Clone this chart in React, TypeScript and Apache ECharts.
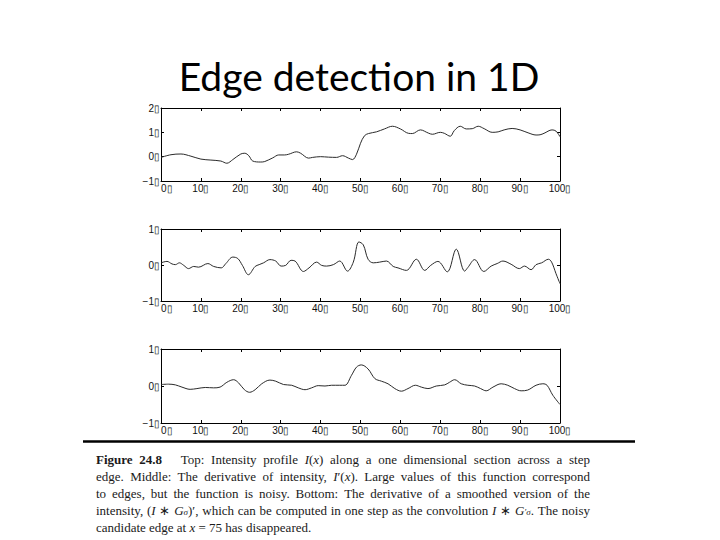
import React, { useEffect, useRef } from "react";
import * as echarts from "echarts";

const titleText = "Edge detection in 1D";
const tickSuffix = "\u25AF";

// Top: intensity profile I(x)
const intensityProfile: [number, number][] = [
  [0, -0.03], [2.5, 0.08], [5, 0.11], [7.5, 0.02], [10, -0.1], [12.5, -0.14], [15, -0.18],
  [16.5, -0.27], [18, -0.12], [20, 0.11], [21, 0.14], [22, 0.04], [23, -0.18], [25, -0.22],
  [26, -0.2], [28, -0.05], [29.5, 0.07], [31, 0.07], [32, 0.1], [34, 0.2], [35, 0.14],
  [37, -0.06], [38, -0.03], [40, 0], [42, -0.02], [44, -0.03], [45.5, 0.04], [47, -0.06],
  [48, -0.12], [49, 0.1], [50, 0.55], [51, 0.86], [52, 0.95], [54, 1.02], [56, 1.14],
  [58, 1.25], [60, 1.14], [62, 0.96], [63, 0.95], [65, 1.1], [67, 0.97], [68, 0.92],
  [70, 1.0], [71, 0.96], [72.5, 0.84], [73.5, 1.07], [75, 1.25], [76.5, 1.14], [78, 1.15],
  [79.5, 1.25], [81, 1.15], [83, 1.0], [84.5, 1.02], [86, 1.1], [88, 1.16], [90, 1.1],
  [92, 0.98], [94, 0.89], [95, 0.9], [96, 0.96], [98, 1.1], [99, 1.05], [100, 0.82],
];

// Middle: derivative I'(x)
const derivative: [number, number][] = [
  [0, 0.06], [1.5, 0.1], [2.75, 0.03], [3.6, 0.01], [4.6, 0.06], [5.7, -0.01], [6.9, -0.1],
  [8.2, -0.04], [9.4, -0.06], [11.75, 0.04], [13.2, -0.04], [15.1, -0.08], [16.25, 0.04],
  [18, 0.22], [19.25, 0.18], [20.4, -0.01], [21.9, -0.27], [23.6, -0.04], [24.6, 0.01],
  [25.7, 0.06], [27.3, 0.15], [28.75, 0.11], [30.1, -0.03], [31.25, -0.01], [32.6, 0.13],
  [33.6, 0.11], [35.7, -0.18], [37.1, -0.08], [39, 0.08], [40.25, -0.01], [41.5, -0.03],
  [43.2, 0.01], [44.8, 0.11], [46.75, -0.17], [48.2, 0.08], [49.6, 0.64], [50.7, 0.56],
  [51.9, 0.16], [53.2, 0.06], [54.8, 0.08], [56.5, 0.11], [58.2, -0.04], [59.4, -0.08],
  [61.5, -0.15], [64, 0.16], [66.1, -0.15], [67.6, -0.01], [69.4, 0.1], [71.75, -0.19],
  [74, 0.44], [76.1, -0.17], [76.9, -0.07], [78.6, 0.15], [80.9, -0.18], [82.75, -0.03],
  [84.25, 0.04], [85.7, 0.11], [87.75, 0.02], [89.8, -0.1], [91.1, -0.03], [92.75, -0.13],
  [94, 0.01], [95.4, 0.06], [97.1, 0.16], [97.9, 0.08], [99, -0.24], [100, -0.52],
];

// Bottom: derivative of smoothed intensity (I * G_sigma)'
const smoothedDerivative: [number, number][] = [
  [0, 0.04], [1.9, 0.05], [3.6, 0.03], [5.25, -0.03], [7.3, -0.09], [9, -0.07], [11.1, -0.04],
  [13.2, -0.05], [14.8, -0.03], [16.5, 0.1], [18.2, 0.17], [19.4, 0.09], [20.9, -0.1],
  [22.2, -0.17], [23.6, -0.1], [25.25, 0.06], [27.3, 0.16], [28.75, 0.13], [30.7, 0.04],
  [32.75, 0.02], [34.4, -0.05], [36.1, -0.1], [37.75, -0.05], [39.4, 0.01], [41.1, 0],
  [42.75, 0.02], [44.8, 0.02], [46.1, 0.02], [47.75, 0.29], [49, 0.51], [50.2, 0.57],
  [51.9, 0.46], [53.6, 0.2], [55.25, 0.13], [56.9, 0.06], [58.6, -0.07], [60.25, -0.14],
  [61.9, -0.07], [63.75, 0.02], [65.25, -0.03], [66.9, -0.07], [69, 0], [71.1, 0.03],
  [72.3, 0.1], [73.6, 0.17], [75.25, 0.06], [76.9, 0.02], [78.6, 0], [80.1, -0.07],
  [81.5, -0.13], [83.2, -0.03], [85.25, 0.06], [86.9, 0.02], [88.6, -0.07], [90.25, -0.13],
  [91.9, -0.11], [94, 0.02], [95.7, 0.06], [96.75, 0.02], [98.2, -0.25], [100, -0.5],
];

const panelSeries = [intensityProfile, derivative, smoothedDerivative];
const panelYRanges: [number, number][] = [[-1, 2], [-1, 1], [-1, 1]];
const xRange: [number, number] = [0, 100];

// Caption, one array of words per printed line; "\t" marks the wide gap after the figure number
const captionLines: string[][] = [
  ["{b|Figure}", "{b|24.8}", "\t", "Top:", "Intensity", "profile", "{i|I}{n|(}{i|x}{n|)}", "along", "a", "one", "dimensional", "section", "across", "a", "step"],
  ["edge.", "Middle:", "The", "derivative", "of", "intensity,", "{i|I}{n|\u2032(}{i|x}{n|).}", "Large", "values", "of", "this", "function", "correspond"],
  ["to", "edges,", "but", "the", "function", "is", "noisy.", "Bottom:", "The", "derivative", "of", "a", "smoothed", "version", "of", "the"],
  ["intensity,", "{n|(}{i|I}", "\u2217", "{i|G}{s|\u03C3}{n|)\u2032,}", "which", "can", "be", "computed", "in", "one", "step", "as", "the", "convolution", "{i|I}", "\u2217", "{i|G}{s|\u2032}{s|\u03C3}{n|.}", "The", "noisy"],
  ["candidate", "edge", "at", "{i|x}", "=", "75", "has", "disappeared."],
];

const SERIF = "'Liberation Serif', 'Times New Roman', serif";
const richStyles: Record<string, any> = {
  n: { fontFamily: SERIF, fontSize: 13, fill: "#1a1a1a" },
  b: { fontFamily: SERIF, fontSize: 13, fontWeight: "bold", fill: "#1a1a1a" },
  i: { fontFamily: SERIF, fontSize: 13, fontStyle: "italic", fill: "#1a1a1a" },
  s: { fontFamily: SERIF, fontSize: 9, fontStyle: "italic", fill: "#1a1a1a", verticalAlign: "bottom" },
};
const canvasFonts: Record<string, string> = {
  n: `13px ${SERIF}`,
  b: `bold 13px ${SERIF}`,
  i: `italic 13px ${SERIF}`,
  s: `italic 9px ${SERIF}`,
};

function parseWord(w: string): [string, string][] {
  if (w.indexOf("{") < 0) return [["n", w]];
  const out: [string, string][] = [];
  const re = /\{(\w+)\|([^}]*)\}/g;
  let m: RegExpExecArray | null;
  while ((m = re.exec(w))) out.push([m[1], m[2]]);
  return out;
}

function buildCaption(): any[] {
  const ctx = document.createElement("canvas").getContext("2d")!;
  const measure = (style: string, t: string) => {
    ctx.font = canvasFonts[style];
    return ctx.measureText(t).width;
  };
  const left = 96;
  const right = 590;
  const top = 459;
  const lineGap = 17;
  const wideGap = 12;
  const els: any[] = [];
  captionLines.forEach((words, li) => {
    const items: { text: string; w: number }[] = [];
    let extra = 0;
    words.forEach((w) => {
      if (w === "\t") {
        extra += wideGap;
        return;
      }
      const toks = parseWord(w);
      const width = toks.reduce((s, [st, t]) => s + measure(st, t), 0);
      items.push({ text: toks.map(([st, t]) => `{${st}|${t}}`).join(""), w: width });
    });
    const total = items.reduce((s, it) => s + it.w, 0);
    const justify = li < captionLines.length - 1;
    const space = justify ? (right - left - total - extra) / (items.length - 1) : measure("n", " ");
    let x = left;
    items.forEach((it, k) => {
      els.push({
        type: "text",
        x,
        y: top + li * lineGap,
        style: {
          text: it.text,
          rich: richStyles,
          fontFamily: SERIF,
          fontSize: 13,
          align: "left",
          verticalAlign: "middle",
        },
      });
      x += it.w + space;
      if (li === 0 && k === 1) x += extra;
    });
  });
  return els;
}

function fmt(v: number) {
  return (v < 0 ? "\u2212" + Math.abs(v) : String(v)) + tickSuffix;
}

export default function App() {
  const ref = useRef<HTMLDivElement>(null);
  useEffect(() => {
    if (!ref.current) return;
    const chart = echarts.init(ref.current, undefined, { renderer: "svg" });
    const grids = [
      { left: 161, top: 108, width: 399, height: 73 },
      { left: 161, top: 229, width: 399, height: 72 },
      { left: 161, top: 349, width: 399, height: 74 },
    ];
    const axisLine = { show: true, onZero: false, lineStyle: { color: "#000", width: 1 } };
    const tick = { show: true, inside: true, length: 3, lineStyle: { color: "#000" } };
    const labelStyle = { fontFamily: "'Liberation Sans', Arial, sans-serif", fontSize: 10, color: "#111" };
    const xAxis: any[] = [];
    const yAxis: any[] = [];
    const series: any[] = [];
    grids.forEach((_, i) => {
      const [ymin, ymax] = panelYRanges[i];
      xAxis.push({
        gridIndex: i, type: "value", position: "bottom", min: xRange[0], max: xRange[1], interval: 10,
        axisLine, axisTick: tick, splitLine: { show: false },
        axisLabel: { ...labelStyle, margin: 2, formatter: fmt, alignMinLabel: "left" },
      });
      xAxis.push({
        gridIndex: i, type: "value", position: "top", min: xRange[0], max: xRange[1], interval: 10,
        axisLine, axisTick: tick, splitLine: { show: false }, axisLabel: { show: false },
      });
      yAxis.push({
        gridIndex: i, type: "value", position: "left", min: ymin, max: ymax, interval: 1,
        axisLine, axisTick: tick, splitLine: { show: false },
        axisLabel: { ...labelStyle, margin: 1, formatter: fmt },
      });
      yAxis.push({
        gridIndex: i, type: "value", position: "right", min: ymin, max: ymax, interval: 1,
        axisLine, axisTick: tick, splitLine: { show: false }, axisLabel: { show: false },
      });
      series.push({
        type: "line",
        xAxisIndex: 2 * i,
        yAxisIndex: 2 * i,
        data: panelSeries[i],
        smooth: 0.35,
        showSymbol: false,
        lineStyle: { color: "#2a2a2a", width: 1 },
      });
    });

    const graphic: any[] = [
      {
        type: "text",
        x: 359,
        y: 76,
        style: {
          text: titleText,
          fontFamily: "Lato, 'Open Sans', sans-serif",
          fontSize: 39,
          fill: "#000",
          align: "center",
          verticalAlign: "middle",
        },
      },
      {
        type: "line",
        shape: { x1: 83, y1: 441.5, x2: 635, y2: 441.5 },
        style: { stroke: "#000", lineWidth: 2.5 },
      },
      ...buildCaption(),
    ];

    chart.setOption({
      animation: false,
      backgroundColor: "#fff",
      grid: grids,
      xAxis,
      yAxis,
      series,
      graphic,
    });
    return () => chart.dispose();
  }, []);
  return (
    <div
      ref={ref}
      style={{ position: "absolute", left: 0, top: 0, width: 720, height: 540 }}
    />
  );
}
